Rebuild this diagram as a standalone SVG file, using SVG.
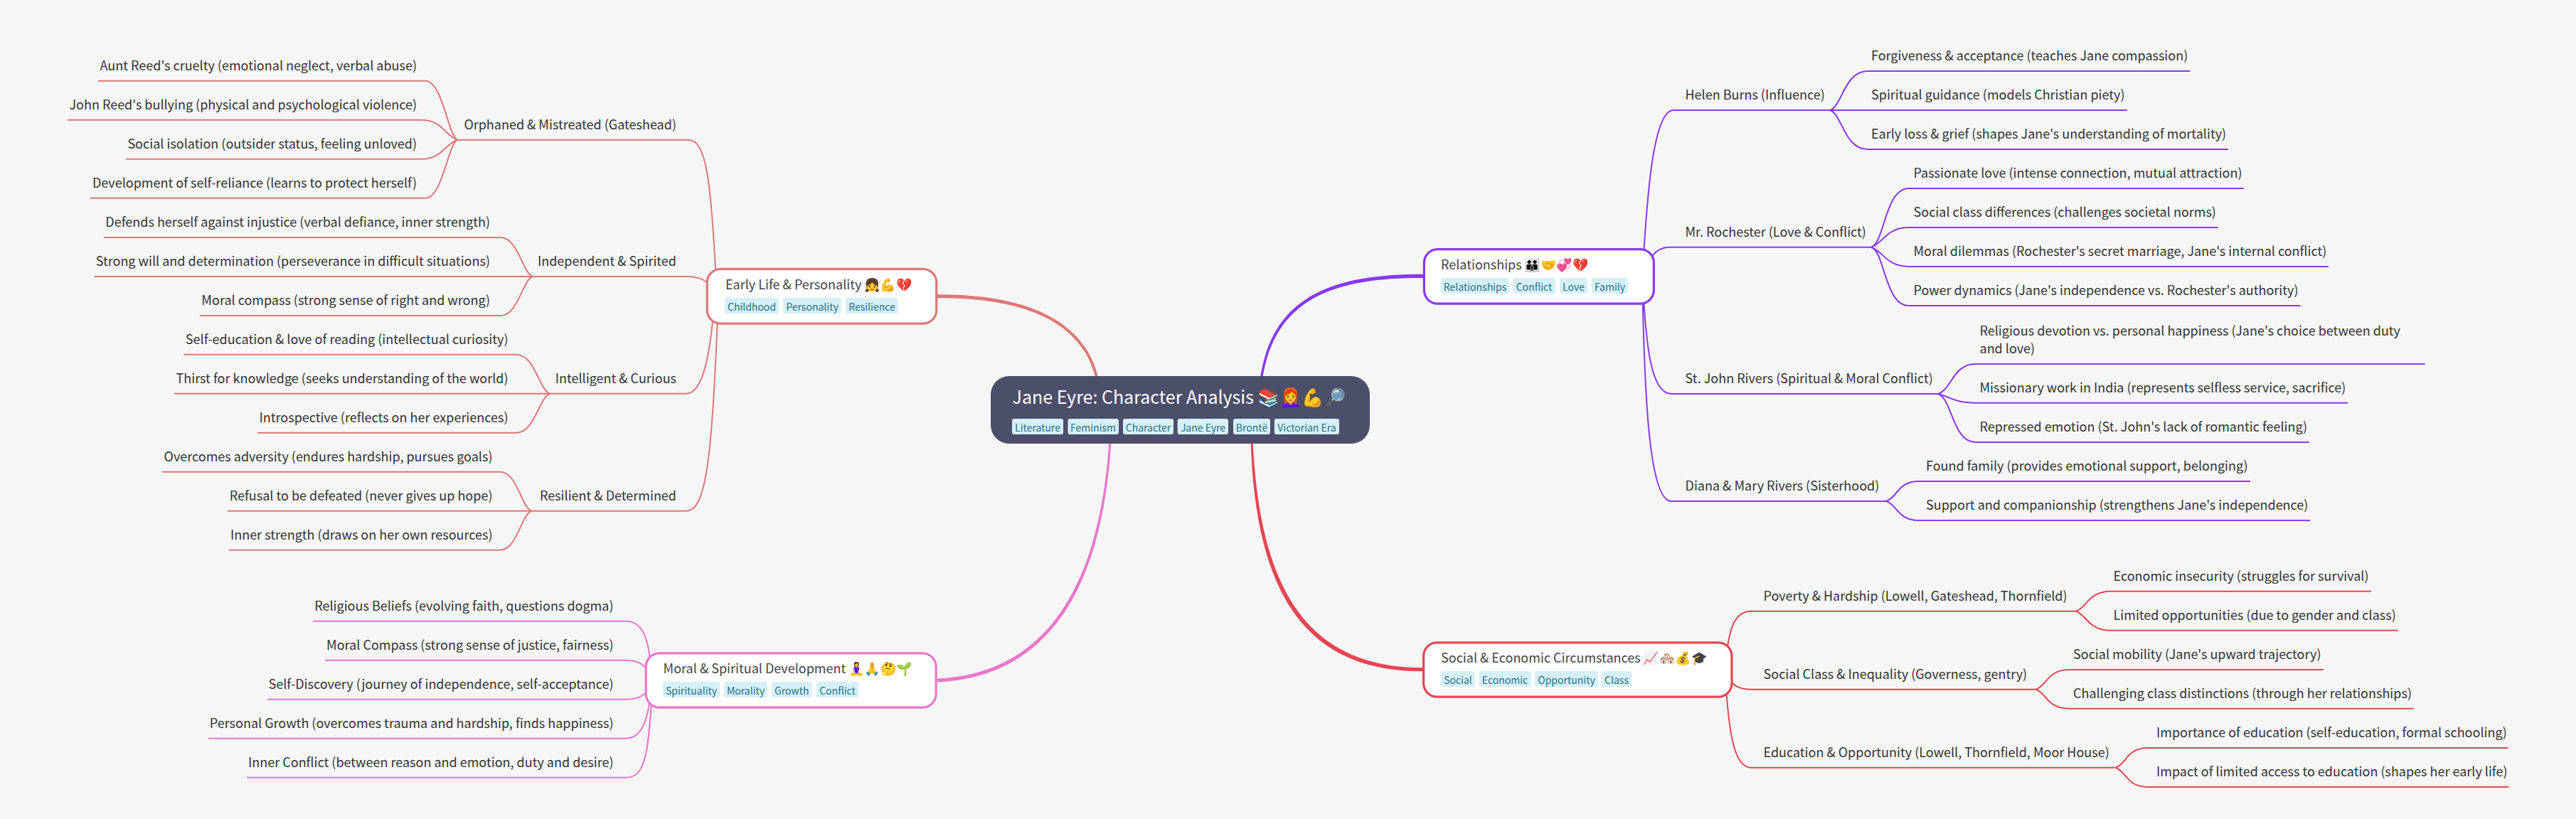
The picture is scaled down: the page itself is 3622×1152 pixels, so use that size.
<svg xmlns="http://www.w3.org/2000/svg" width="3622" height="1152" viewBox="0 0 3622 1152">
<style>
text{font-family:"Noto Sans CJK SC","Noto Sans","Noto Color Emoji",sans-serif}
.c{fill:none;stroke-width:2}
.m{fill:#fff;stroke-width:3.200}
.r{fill:#4c4f69}
.t{fill:#ffffff;font-size:25px}
.h{fill:#444446;font-size:18px}
.s{fill:#333333;font-size:18px}
.e{text-anchor:end}
.g{fill:#d6f0f8}
.k{fill:#276f86;font-size:14px;text-anchor:middle}
.p1{stroke:#dd7878}.p2{stroke:#ea76cb}.p3{stroke:#8839ef}.p4{stroke:#e64553}
</style>
<rect width="3622" height="1152" fill="#f6f6f6"/>
<g id="connectors">
<path fill="#dd7878" d="M1317 414.200C1441 413.500 1527 449 1545 535L1541 535C1523 451.500 1439 418.500 1317 419.200Z"/>
<path fill="#8839ef" d="M2001 385.800C1869 385.500 1788 419 1771.300 535L1774.700 535C1792 422 1871 390.500 2001 391Z"/>
<path fill="#ea76cb" d="M1559.500 620C1546 829 1468 948 1318 954.500L1318 959.500C1472 952.500 1550 831 1562.500 620Z"/>
<path fill="#e64553" d="M1761.500 620C1771 820 1832 939 2000 939.200L2000 944.200C1827 945 1765 822 1758.500 620Z"/>
<g class="c p1">
<path d="M1008 416C1000 250 993 196.700 967.700 196.700H643"/>
<path d="M1008 416C1000 400 990 389 967.700 389H748.700"/>
<path d="M1005 416C1000 490 990 553.700 965 553.700H773"/>
<path d="M1010 416C1002 650 992 718.700 965 718.700H747"/>
<path d="M643 196.700C630 190 622 113.700 598 113.700H138"/>
<path d="M643 196.700C625 190 622 168.700 592 168.700H95"/>
<path d="M643 196.700C625 203 622 223.700 592 223.700H176.800"/>
<path d="M643 196.700C630 203 622 278.700 598 278.700H127"/>
<path d="M748.700 389C735 384 728 334 704 334H146"/>
<path d="M748.700 389H133"/>
<path d="M748.700 389C735 394 728 444 704 444H281"/>
<path d="M773 553.700C758 548 752 498.700 726 498.700H258"/>
<path d="M773 553.700H245"/>
<path d="M773 553.700C758 559 752 608.700 726 608.700H362"/>
<path d="M747 718.700C733 713 727 663.700 703 663.700H228"/>
<path d="M747 718.700H320"/>
<path d="M747 718.700C733 724 727 773.700 703 773.700H322"/>
</g>
<g class="c p2">
<path d="M918 957C912 905 908 873.700 880 873.700H440"/>
<path d="M918 957C912 945 908 928.700 880 928.700H457"/>
<path d="M918 957C912 970 908 983.700 880 983.700H376"/>
<path d="M918 957C912 1000 908 1038.700 880 1038.700H293"/>
<path d="M918 957C912 1060 908 1093.700 880 1093.700H347"/>
</g>
<g class="c p3">
<path d="M2309 389C2314 320 2320 155 2353 155H2573"/>
<path d="M2309 389C2314 380 2320 347.700 2347 347.700H2631"/>
<path d="M2309 389C2314 480 2320 554 2350 554H2724.700"/>
<path d="M2309 389C2312 550 2318 705 2350 705H2652"/>
<path d="M2573 155C2590 150 2593 100 2626 100H3079.500"/>
<path d="M2573 155H2990.800"/>
<path d="M2573 155C2590 160 2593 210 2626 210H3133"/>
<path d="M2631 347.700C2650 342 2650 265 2684 265H3155"/>
<path d="M2631 347.700C2648 342 2652 320 2684 320H3118.500"/>
<path d="M2631 347.700C2648 353 2652 375 2684 375H3274"/>
<path d="M2631 347.700C2650 353 2650 430 2684 430H3234.600"/>
<path d="M2724.700 554C2745 548 2745 512 2778 512H3409.700"/>
<path d="M2724.700 554C2745 559 2748 566.700 2778 566.700H3301"/>
<path d="M2724.700 554C2745 560 2745 622 2778 622H3246.700"/>
<path d="M2652 705C2668 700 2668 677 2698 677H3164"/>
<path d="M2652 705C2668 710 2668 732 2698 732H3248"/>
</g>
<g class="c p4">
<path d="M2425 942C2430 890 2436 859.700 2461.700 859.700H2919"/>
<path d="M2425 942C2430 955 2436 969.700 2461.700 969.700H2862.700"/>
<path d="M2425 942C2430 1020 2436 1079.700 2461.700 1079.700H2974.700"/>
<path d="M2919 859.700C2934 855 2936 831.700 2968 831.700H3334"/>
<path d="M2919 859.700C2934 865 2936 886.700 2968 886.700H3371.600"/>
<path d="M2862.700 969.700C2878 965 2878 942 2910 942H3267"/>
<path d="M2862.700 969.700C2878 975 2878 996.700 2910 996.700H3393.600"/>
<path d="M2974.700 1079.700C2990 1075 2990 1052 3020 1052H3526.600"/>
<path d="M2974.700 1079.700C2990 1085 2990 1107 3020 1107H3527.600"/>
</g>
</g>
<g id="root">
<rect class="r" x="1393" y="529" width="533" height="95" rx="26"/>
<text class="t" x="1423.500" y="567.500">Jane Eyre: Character Analysis 📚👩‍🦰💪🔎</text>
<rect class="g" x="1423" y="589" width="72" height="22" rx="3"/><text class="k" x="1459" y="607">Literature</text>
<rect class="g" x="1501.500" y="589" width="71.500" height="22" rx="3"/><text class="k" x="1537" y="607">Feminism</text>
<rect class="g" x="1579" y="589" width="71" height="22" rx="3"/><text class="k" x="1614.500" y="607">Character</text>
<rect class="g" x="1655.700" y="589" width="71.300" height="22" rx="3"/><text class="k" x="1691.500" y="607">Jane Eyre</text>
<rect class="g" x="1734" y="589" width="52" height="22" rx="3"/><text class="k" x="1760" y="607">Brontë</text>
<rect class="g" x="1791.800" y="589" width="91.200" height="22" rx="3"/><text class="k" x="1837.500" y="607">Victorian Era</text>
</g>
<g id="early-life">
<rect class="m p1" x="994.300" y="378.300" width="322.400" height="76.900" rx="19"/>
<text class="h" x="1020" y="406.700">Early Life &amp; Personality 👧💪💔</text>
<rect class="g" x="1019.300" y="419" width="75.700" height="22" rx="3"/><text class="k" x="1057" y="437">Childhood</text>
<rect class="g" x="1101" y="419" width="81.700" height="22" rx="3"/><text class="k" x="1142" y="437">Personality</text>
<rect class="g" x="1189" y="419" width="73.700" height="22" rx="3"/><text class="k" x="1226" y="437">Resilience</text>
</g>
<g id="moral-spiritual">
<rect class="m p2" x="908.200" y="918.900" width="407.900" height="76.200" rx="19"/>
<text class="h" x="932.600" y="946.700">Moral &amp; Spiritual Development 🧘‍♀️🙏🤔🌱</text>
<rect class="g" x="932" y="959" width="80" height="22" rx="3"/><text class="k" x="972" y="977">Spirituality</text>
<rect class="g" x="1018" y="959" width="61" height="22" rx="3"/><text class="k" x="1048.500" y="977">Morality</text>
<rect class="g" x="1085" y="959" width="56.600" height="22" rx="3"/><text class="k" x="1113.300" y="977">Growth</text>
<rect class="g" x="1148" y="959" width="59" height="22" rx="3"/><text class="k" x="1177.500" y="977">Conflict</text>
</g>
<g id="relationships">
<rect class="m p3" x="2002.400" y="350.600" width="323" height="76.500" rx="19"/>
<text class="h" x="2026" y="379">Relationships 👪🤝💞💔</text>
<rect class="g" x="2026" y="391" width="96" height="22" rx="3"/><text class="k" x="2074" y="409">Relationships</text>
<rect class="g" x="2127.800" y="391" width="58.900" height="22" rx="3"/><text class="k" x="2157" y="409">Conflict</text>
<rect class="g" x="2193" y="391" width="39" height="22" rx="3"/><text class="k" x="2212.500" y="409">Love</text>
<rect class="g" x="2238" y="391" width="51" height="22" rx="3"/><text class="k" x="2263.500" y="409">Family</text>
</g>
<g id="social-economic">
<rect class="m p4" x="2001.600" y="903.900" width="433.400" height="76.200" rx="19"/>
<text class="h" x="2026" y="931.700">Social &amp; Economic Circumstances 📈🏘️💰🎓</text>
<rect class="g" x="2026" y="944" width="48" height="22" rx="3"/><text class="k" x="2050" y="962">Social</text>
<rect class="g" x="2079.500" y="944" width="73.300" height="22" rx="3"/><text class="k" x="2116" y="962">Economic</text>
<rect class="g" x="2158" y="944" width="89" height="22" rx="3"/><text class="k" x="2202.500" y="962">Opportunity</text>
<rect class="g" x="2252" y="944" width="42" height="22" rx="3"/><text class="k" x="2273" y="962">Class</text>
</g>
<g id="orphaned"><text class="s e" x="951" y="182">Orphaned &amp; Mistreated (Gateshead)</text></g>
<g id="leaf-aunt-reed"><text class="s e" x="586" y="99">Aunt Reed's cruelty (emotional neglect, verbal abuse)</text></g>
<g id="leaf-john-reed"><text class="s e" x="586" y="154">John Reed's bullying (physical and psychological violence)</text></g>
<g id="leaf-isolation"><text class="s e" x="586" y="209">Social isolation (outsider status, feeling unloved)</text></g>
<g id="leaf-self-reliance"><text class="s e" x="586" y="264">Development of self-reliance (learns to protect herself)</text></g>
<g id="independent"><text class="s e" x="951" y="374">Independent &amp; Spirited</text></g>
<g id="leaf-defends"><text class="s e" x="689" y="319">Defends herself against injustice (verbal defiance, inner strength)</text></g>
<g id="leaf-strong-will"><text class="s e" x="689" y="374">Strong will and determination (perseverance in difficult situations)</text></g>
<g id="leaf-moral-compass"><text class="s e" x="689" y="429">Moral compass (strong sense of right and wrong)</text></g>
<g id="intelligent"><text class="s e" x="951" y="539">Intelligent &amp; Curious</text></g>
<g id="leaf-self-education"><text class="s e" x="714.500" y="484">Self-education &amp; love of reading (intellectual curiosity)</text></g>
<g id="leaf-thirst"><text class="s e" x="714.500" y="539">Thirst for knowledge (seeks understanding of the world)</text></g>
<g id="leaf-introspective"><text class="s e" x="714.500" y="594">Introspective (reflects on her experiences)</text></g>
<g id="resilient"><text class="s e" x="951" y="704">Resilient &amp; Determined</text></g>
<g id="leaf-overcomes"><text class="s e" x="692.500" y="649">Overcomes adversity (endures hardship, pursues goals)</text></g>
<g id="leaf-refusal"><text class="s e" x="692.500" y="704">Refusal to be defeated (never gives up hope)</text></g>
<g id="leaf-inner-strength"><text class="s e" x="692.500" y="759">Inner strength (draws on her own resources)</text></g>
<g id="leaf-religious-beliefs"><text class="s e" x="862.500" y="859">Religious Beliefs (evolving faith, questions dogma)</text></g>
<g id="leaf-moral-compass-2"><text class="s e" x="862.500" y="914">Moral Compass (strong sense of justice, fairness)</text></g>
<g id="leaf-self-discovery"><text class="s e" x="862.500" y="969">Self-Discovery (journey of independence, self-acceptance)</text></g>
<g id="leaf-personal-growth"><text class="s e" x="862.500" y="1024">Personal Growth (overcomes trauma and hardship, finds happiness)</text></g>
<g id="leaf-inner-conflict"><text class="s e" x="862.500" y="1079">Inner Conflict (between reason and emotion, duty and desire)</text></g>
<g id="helen"><text class="s" x="2369.500" y="140">Helen Burns (Influence)</text></g>
<g id="leaf-forgiveness"><text class="s" x="2631" y="85">Forgiveness &amp; acceptance (teaches Jane compassion)</text></g>
<g id="leaf-guidance"><text class="s" x="2631" y="140">Spiritual guidance (models Christian piety)</text></g>
<g id="leaf-early-loss"><text class="s" x="2631" y="195">Early loss &amp; grief (shapes Jane's understanding of mortality)</text></g>
<g id="rochester"><text class="s" x="2369.500" y="333">Mr. Rochester (Love &amp; Conflict)</text></g>
<g id="leaf-passionate"><text class="s" x="2690.500" y="250">Passionate love (intense connection, mutual attraction)</text></g>
<g id="leaf-class-diff"><text class="s" x="2690.500" y="305">Social class differences (challenges societal norms)</text></g>
<g id="leaf-dilemmas"><text class="s" x="2690.500" y="360">Moral dilemmas (Rochester's secret marriage, Jane's internal conflict)</text></g>
<g id="leaf-power"><text class="s" x="2690.500" y="415">Power dynamics (Jane's independence vs. Rochester's authority)</text></g>
<g id="st-john"><text class="s" x="2369.500" y="539">St. John Rivers (Spiritual &amp; Moral Conflict)</text></g>
<g id="leaf-devotion"><text class="s" x="2783.500" y="471.500">Religious devotion vs. personal happiness (Jane's choice between duty</text><text class="s" x="2783.500" y="497">and love)</text></g>
<g id="leaf-missionary"><text class="s" x="2783.500" y="552">Missionary work in India (represents selfless service, sacrifice)</text></g>
<g id="leaf-repressed"><text class="s" x="2783.500" y="607">Repressed emotion (St. John's lack of romantic feeling)</text></g>
<g id="diana-mary"><text class="s" x="2369.500" y="690">Diana &amp; Mary Rivers (Sisterhood)</text></g>
<g id="leaf-found-family"><text class="s" x="2708" y="662">Found family (provides emotional support, belonging)</text></g>
<g id="leaf-companionship"><text class="s" x="2708" y="717">Support and companionship (strengthens Jane's independence)</text></g>
<g id="poverty"><text class="s" x="2479.500" y="845">Poverty &amp; Hardship (Lowell, Gateshead, Thornfield)</text></g>
<g id="leaf-insecurity"><text class="s" x="2971.500" y="817">Economic insecurity (struggles for survival)</text></g>
<g id="leaf-limited"><text class="s" x="2971.500" y="872">Limited opportunities (due to gender and class)</text></g>
<g id="social-class"><text class="s" x="2479.500" y="955">Social Class &amp; Inequality (Governess, gentry)</text></g>
<g id="leaf-mobility"><text class="s" x="2915" y="927">Social mobility (Jane's upward trajectory)</text></g>
<g id="leaf-challenging"><text class="s" x="2915" y="982">Challenging class distinctions (through her relationships)</text></g>
<g id="education"><text class="s" x="2479.500" y="1065">Education &amp; Opportunity (Lowell, Thornfield, Moor House)</text></g>
<g id="leaf-importance"><text class="s" x="3032" y="1037">Importance of education (self-education, formal schooling)</text></g>
<g id="leaf-impact"><text class="s" x="3032" y="1092">Impact of limited access to education (shapes her early life)</text></g>
</svg>
